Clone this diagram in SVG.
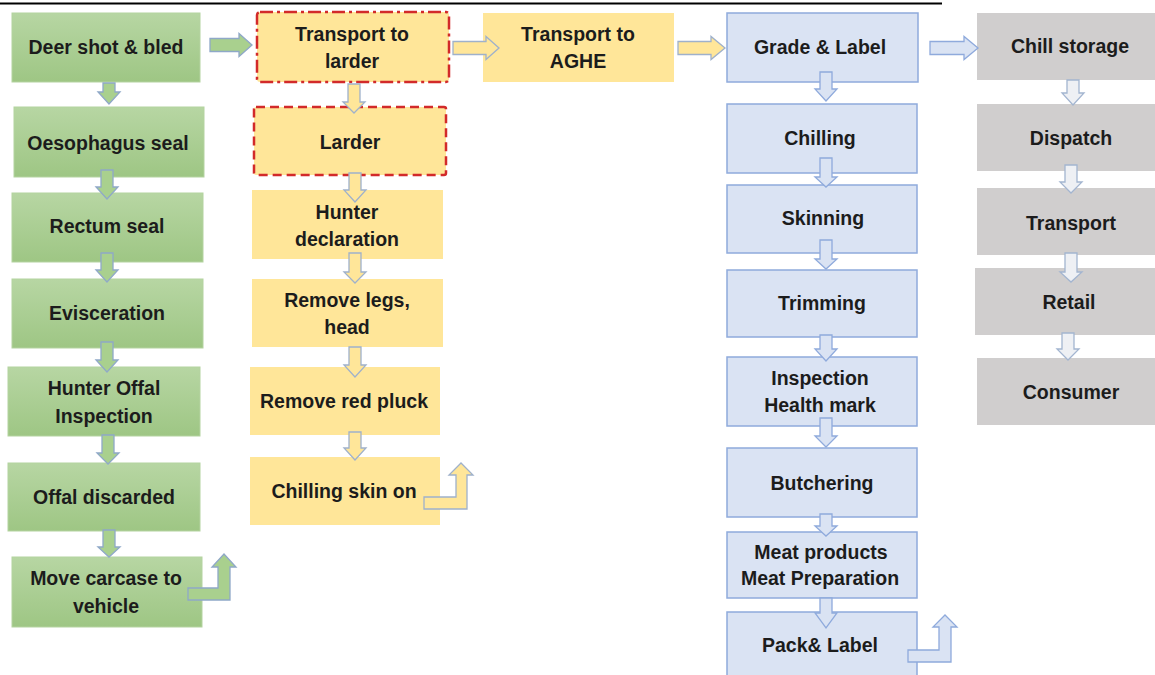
<svg xmlns="http://www.w3.org/2000/svg" width="1155" height="675" viewBox="0 0 1155 675">
<defs>
<linearGradient id="gg" x1="0" y1="0" x2="0" y2="1">
<stop offset="0" stop-color="#b7d6a3"/>
<stop offset="1" stop-color="#9ec684"/>
</linearGradient>
</defs>
<style>
text{font-family:"Liberation Sans",Arial,sans-serif;font-weight:bold;font-size:19.5px;fill:#1c1c1c;text-anchor:middle}
.g{fill:url(#gg);stroke:#b4d3a0;stroke-width:1}
.y{fill:#ffe699}
.b{fill:#dae3f3;stroke:#8faadc;stroke-width:1.5}
.c{fill:#d0cece}
.rd1{fill:#ffe699;stroke:#d22a2a;stroke-width:2.5;stroke-dasharray:13 4 3 4}
.rd2{fill:#ffe699;stroke:#d22a2a;stroke-width:2.5;stroke-dasharray:9 5}
.ag{fill:#a9d08e;stroke:#8fa8c8;stroke-width:1.3}
.ay{fill:#ffe699;stroke:#9fb1cb;stroke-width:1.3}
.ab{fill:#dae3f3;stroke:#8faadc;stroke-width:1.3}
.ac{fill:#eef0f4;stroke:#a3b5d0;stroke-width:1.3}
</style>
<rect width="1155" height="675" fill="#fff"/>
<line x1="0" y1="3.5" x2="942" y2="3.5" stroke="#000" stroke-width="2"/>

<g id="n-deer"><rect class="g" x="12" y="13" width="188" height="69"/><text x="106" y="54">Deer shot &amp; bled</text></g>
<g id="n-oeso"><rect class="g" x="14" y="107" width="190" height="70"/><text x="108" y="150">Oesophagus seal</text></g>
<g id="n-rectum"><rect class="g" x="12" y="193" width="191" height="69"/><text x="107" y="233">Rectum seal</text></g>
<g id="n-evisc"><rect class="g" x="12" y="279" width="191" height="69"/><text x="107" y="320">Evisceration</text></g>
<g id="n-hoi"><rect class="g" x="8" y="367" width="192" height="69"/><text x="104" y="395">Hunter Offal</text><text x="104" y="423">Inspection</text></g>
<g id="n-offal"><rect class="g" x="8" y="463" width="192" height="68"/><text x="104" y="504">Offal discarded</text></g>
<g id="n-move"><rect class="g" x="12" y="557" width="190" height="70"/><text x="106" y="585">Move carcase to</text><text x="106" y="613">vehicle</text></g>

<g id="n-tlarder"><rect class="rd1" x="257" y="12" width="192" height="70" rx="3"/><text x="352" y="41">Transport to</text><text x="352" y="68">larder</text></g>
<g id="n-larder"><rect class="rd2" x="254" y="107" width="192" height="68" rx="2"/><text x="350" y="149">Larder</text></g>
<g id="n-hdecl"><rect class="y" x="252" y="190" width="191" height="69"/><text x="347" y="219">Hunter</text><text x="347" y="246">declaration</text></g>
<g id="n-legs"><rect class="y" x="252" y="279" width="191" height="68"/><text x="347" y="307">Remove legs,</text><text x="347" y="334">head</text></g>
<g id="n-pluck"><rect class="y" x="250" y="367" width="190" height="68"/><text x="344" y="408">Remove red pluck</text></g>
<g id="n-chillskin"><rect class="y" x="250" y="457" width="190" height="68"/><text x="344" y="498">Chilling skin on</text></g>
<g id="n-aghe"><rect class="y" x="483" y="13" width="191" height="69"/><text x="578" y="41">Transport to</text><text x="578" y="68">AGHE</text></g>

<g id="n-grade"><rect class="b" x="727" y="13" width="191" height="69"/><text x="820" y="54">Grade &amp; Label</text></g>
<g id="n-chilling"><rect class="b" x="727" y="104" width="190" height="69"/><text x="820" y="145">Chilling</text></g>
<g id="n-skinning"><rect class="b" x="727" y="185" width="190" height="68"/><text x="823" y="225">Skinning</text></g>
<g id="n-trimming"><rect class="b" x="727" y="270" width="190" height="67"/><text x="822" y="310">Trimming</text></g>
<g id="n-inspection"><rect class="b" x="727" y="357" width="190" height="69"/><text x="820" y="385">Inspection</text><text x="820" y="412">Health mark</text></g>
<g id="n-butcher"><rect class="b" x="727" y="448" width="190" height="69"/><text x="822" y="490">Butchering</text></g>
<g id="n-meat"><rect class="b" x="727" y="532" width="190" height="66"/><text x="821" y="559">Meat products</text><text x="820" y="585">Meat Preparation</text></g>
<g id="n-pack"><rect class="b" x="727" y="612" width="190" height="70"/><text x="820" y="652">Pack&amp; Label</text></g>

<g id="n-chillstore"><rect class="c" x="977" y="13" width="183" height="67"/><text x="1070" y="53">Chill storage</text></g>
<g id="n-dispatch"><rect class="c" x="977" y="104" width="183" height="67"/><text x="1071" y="145">Dispatch</text></g>
<g id="n-transport"><rect class="c" x="977" y="188" width="183" height="67"/><text x="1071" y="230">Transport</text></g>
<g id="n-retail"><rect class="c" x="975" y="268" width="185" height="67"/><text x="1069" y="309">Retail</text></g>
<g id="n-consumer"><rect class="c" x="977" y="358" width="183" height="67"/><text x="1071" y="399">Consumer</text></g>

<g id="connectors">
<!-- horizontal -->
<polygon class="ag" points="210,38.5 239,38.5 239,33.5 252,45 239,56.5 239,51.5 210,51.5"/>
<polygon class="ay" points="453,41.5 486,41.5 486,36.5 499,48 486,59.5 486,54.5 453,54.5"/>
<polygon class="ay" points="678,41.5 711,41.5 711,36.5 725,48 711,59.5 711,54.5 678,54.5"/>
<polygon class="ab" points="930,41.5 964,41.5 964,36.5 978,48 964,59.5 964,54.5 930,54.5"/>
<!-- green down -->
<polygon class="ag" points="103,83 115,83 115,92 120,92 109,104 98,92 103,92"/>
<polygon class="ag" points="101,170 113,170 113,187 118,187 107,199 96,187 101,187"/>
<polygon class="ag" points="101,253 113,253 113,270 118,270 107,282 96,270 101,270"/>
<polygon class="ag" points="101,342 113,342 113,360 118,360 107,372 96,360 101,360"/>
<polygon class="ag" points="102,435 114,435 114,453 119,453 108,464 97,453 102,453"/>
<polygon class="ag" points="103,530 115,530 115,547 120,547 109,557 98,547 103,547"/>
<!-- yellow down -->
<polygon class="ay" points="348,84 360,84 360,102 365,102 354,113 343,102 348,102"/>
<polygon class="ay" points="349,173 361,173 361,190 366,190 355,202 344,190 349,190"/>
<polygon class="ay" points="349,253 361,253 361,272 366,272 355,283 344,272 349,272"/>
<polygon class="ay" points="349,347 361,347 361,365 366,365 355,377 344,365 349,365"/>
<polygon class="ay" points="349,432 361,432 361,448 366,448 355,460 344,448 349,448"/>
<!-- blue down -->
<polygon class="ab" points="820,72 832,72 832,89 837,89 826,101 815,89 820,89"/>
<polygon class="ab" points="820,158 832,158 832,177 837,177 826,187 815,177 820,177"/>
<polygon class="ab" points="820,240 832,240 832,259 837,259 826,269 815,259 820,259"/>
<polygon class="ab" points="820,335 832,335 832,349 837,349 826,361 815,349 820,349"/>
<polygon class="ab" points="820,418 832,418 832,436 837,436 826,447 815,436 820,436"/>
<polygon class="ab" points="820,514 832,514 832,526 837,526 826,536 815,526 820,526"/>
<polygon class="ab" points="820,598 832,598 832,613 837,613 826,628 815,613 820,613"/>
<!-- grey column down -->
<polygon class="ac" points="1067,80 1079,80 1079,93 1084,93 1073,105 1062,93 1067,93"/>
<polygon class="ac" points="1065,165 1077,165 1077,182 1082,182 1071,193 1060,182 1065,182"/>
<polygon class="ac" points="1065,253 1077,253 1077,272 1082,272 1071,282 1060,272 1065,272"/>
<polygon class="ac" points="1062,333 1074,333 1074,349 1079,349 1068,360 1057,349 1062,349"/>
<!-- bent arrows -->
<polygon class="ag" points="188,588 218,588 218,567 212,567 224,554 236,567 230,567 230,600 188,600"/>
<polygon class="ay" points="424,497 456,497 456,475 449,475 461,463 473,475 467,475 467,509 424,509"/>
<polygon class="ab" points="908,650 939,650 939,627 933,627 945,615 957,627 951,627 951,662 908,662"/>
</g>
</svg>
